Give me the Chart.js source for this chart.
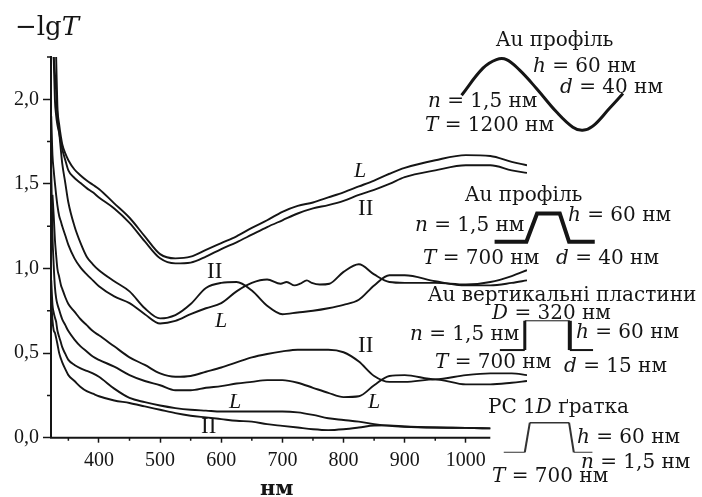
<!DOCTYPE html>
<html>
<head>
<meta charset="utf-8">
<style>
  body { margin: 0; background: #fff; }
  canvas { display: block; }
</style>
<script src="https://cdn.jsdelivr.net/npm/chart.js@4"></script>
</head>
<body>
<canvas id="myChart" width="702" height="497"></canvas>
<script>
// data
const wavelengths = [322, 324, 326, 328, 330, 332, 335, 338, 340, 345, 350, 360, 370, 380, 390, 400, 425, 450, 475, 500, 525, 550, 575, 600, 625, 650, 675, 700, 725, 750, 775, 800, 825, 850, 875, 900, 950, 1000, 1040, 1075, 1100];

const sineL = [null, null, null, null, 2.25, 1.965, 1.85, 1.775, 1.735, 1.68, 1.64, 1.585, 1.55, 1.52, 1.495, 1.47, 1.385, 1.3, 1.19, 1.085, 1.06, 1.07, 1.11, 1.15, 1.19, 1.24, 1.285, 1.335, 1.37, 1.39, 1.42, 1.45, 1.485, 1.52, 1.56, 1.595, 1.64, 1.67, 1.665, 1.63, 1.61];
const sineII = [null, null, 2.25, 1.995, 1.905, 1.85, 1.8, 1.74, 1.705, 1.64, 1.58, 1.535, 1.505, 1.475, 1.45, 1.42, 1.355, 1.27, 1.16, 1.06, 1.03, 1.035, 1.07, 1.115, 1.155, 1.2, 1.245, 1.285, 1.325, 1.355, 1.375, 1.4, 1.435, 1.465, 1.5, 1.54, 1.58, 1.61, 1.61, 1.58, 1.565];
const trapII = [null, null, 2.25, 2.15, 2.05, 1.905, 1.805, 1.69, 1.62, 1.505, 1.39, 1.25, 1.15, 1.07, 1.025, 0.99, 0.925, 0.865, 0.765, 0.705, 0.725, 0.79, 0.885, 0.915, 0.92, 0.87, 0.78, 0.73, 0.74, 0.75, 0.765, 0.785, 0.815, 0.9, 0.96, 0.96, 0.925, 0.9, 0.9, 0.915, 0.93];

// this one has small wiggles past 700 nm, so it has its own list of wavelengths
const trapLWavelengths = [322, 324, 326, 328, 330, 332, 335, 338, 340, 345, 350, 360, 370, 380, 390, 400, 425, 450, 475, 500, 525, 550, 575, 600, 625, 650, 675, 697, 707, 720, 729, 740, 748, 761, 777, 800, 825, 850, 875, 900, 950, 1000, 1040, 1075, 1100];
const trapL = [1.9, 1.67, 1.58, 1.505, 1.435, 1.375, 1.31, 1.275, 1.25, 1.195, 1.14, 1.06, 1.005, 0.965, 0.93, 0.895, 0.835, 0.795, 0.73, 0.675, 0.69, 0.73, 0.765, 0.795, 0.865, 0.915, 0.935, 0.91, 0.92, 0.9, 0.91, 0.93, 0.915, 0.905, 0.91, 0.98, 1.025, 0.965, 0.92, 0.915, 0.915, 0.905, 0.92, 0.955, 0.99];

const plateII = [null, 1.435, 1.315, 1.17, 1.08, 1.0, 0.95, 0.9, 0.88, 0.83, 0.79, 0.745, 0.7, 0.665, 0.63, 0.605, 0.54, 0.475, 0.43, 0.38, 0.36, 0.365, 0.39, 0.415, 0.445, 0.475, 0.495, 0.51, 0.52, 0.52, 0.52, 0.505, 0.45, 0.365, 0.33, 0.33, 0.345, 0.315, 0.315, 0.325, 0.335];
const plateL = [1.58, 1.2, 1.02, 0.89, 0.825, 0.79, 0.755, 0.72, 0.7, 0.665, 0.63, 0.58, 0.54, 0.51, 0.48, 0.46, 0.42, 0.37, 0.335, 0.31, 0.28, 0.28, 0.295, 0.305, 0.32, 0.33, 0.34, 0.34, 0.325, 0.295, 0.265, 0.24, 0.245, 0.31, 0.365, 0.37, 0.345, 0.37, 0.38, 0.38, 0.37];
const gratingL = [0.93, 0.785, 0.74, 0.71, 0.685, 0.635, 0.595, 0.56, 0.535, 0.495, 0.46, 0.43, 0.41, 0.395, 0.38, 0.36, 0.29, 0.235, 0.21, 0.19, 0.175, 0.165, 0.16, 0.155, 0.155, 0.155, 0.155, 0.155, 0.15, 0.135, 0.115, 0.105, 0.095, 0.08, 0.07, 0.065, 0.06, 0.058, 0.055, null, null];
const gratingII = [0.81, 0.695, 0.635, 0.62, 0.59, 0.555, 0.5, 0.465, 0.445, 0.405, 0.37, 0.335, 0.3, 0.275, 0.26, 0.245, 0.22, 0.205, 0.185, 0.165, 0.145, 0.13, 0.12, 0.11, 0.1, 0.095, 0.08, 0.07, 0.06, 0.05, 0.045, 0.05, 0.06, 0.072, 0.073, 0.066, 0.06, 0.058, 0.055, null, null];

const xTickValues = [400, 500, 600, 700, 800, 900, 1000];
const xMinorValues = [350, 450, 550, 650, 750, 850, 950];
const yTickValues = [0, 0.5, 1, 1.5, 2];
const yMinorValues = [0.25, 0.75, 1.25, 1.75, 2.25];

// profile sketches beside the curves, on the same scales.
// Listed right to left on purpose: unsorted data is not cut off at the axis max.
const sketchSineX = [1257, 1235, 1207.6, 1191, 1175, 1148, 1115.5, 1088, 1066.5, 1050, 1028, 993];
const sketchSineY = [2.034, 1.947, 1.841, 1.817, 1.835, 1.926, 2.064, 2.172, 2.235, 2.235, 2.184, 2.024];
const sketchTrapX = [1210.8, 1168.8, 1153.6, 1116.5, 1099, 1047];
const sketchTrapY = [1.158, 1.158, 1.325, 1.325, 1.158, 1.158];
const sketchPlateX = [1208, 1170, 1170, 1096.4, 1096.4, 1055.6];
const sketchPlateY = [0.518, 0.518, 0.691, 0.691, 0.518, 0.518];
const sketchGratingX = [1207, 1176.5, 1168.8, 1104.6, 1096.4, 1062];
const sketchGratingY = [-0.086, -0.086, 0.089, 0.089, -0.086, -0.086];

// stroke of each leg of the two thin sketches, right to left
const plateLegWidths = [2, 4, 1, 3, 2];
const gratingLegWidths = [1, 2, 1.5, 2, 1];

// *...* is italic
const notes = [
  { text: "−lg*T*", x: 15, y: 28, size: 26 },
  { text: "Au профіль", x: 496, y: 41 },
  { text: "*h* = 60 нм", x: 533, y: 67 },
  { text: "*d* = 40 нм", x: 560, y: 88 },
  { text: "*n* = 1,5 нм", x: 428, y: 102 },
  { text: "*T* = 1200 нм", x: 425, y: 126 },
  { text: "Au профіль", x: 465, y: 196 },
  { text: "*h* = 60 нм", x: 568, y: 216 },
  { text: "*n* = 1,5 нм", x: 415, y: 226 },
  { text: "*T* = 700 нм", x: 423, y: 259 },
  { text: "*d* = 40 нм", x: 556, y: 259 },
  { text: "Au вертикальні пластини", x: 428, y: 296 },
  { text: "*D* = 320 нм", x: 492, y: 314 },
  { text: "*h* = 60 нм", x: 576, y: 333 },
  { text: "*n* = 1,5 нм", x: 410, y: 335 },
  { text: "*T* = 700 нм", x: 435, y: 363 },
  { text: "*d* = 15 нм", x: 564, y: 367 },
  { text: "PC 1*D* ґратка", x: 488, y: 408 },
  { text: "*h* = 60 нм", x: 577, y: 438 },
  { text: "*n* = 1,5 нм", x: 581, y: 463 },
  { text: "*T* = 700 нм", x: 492, y: 477 },
  { text: "нм", x: 260, y: 490, size: 21, weight: "bold" },
  { text: "*L*", x: 354, y: 171, size: 22, face: "Liberation Serif" },
  { text: "II", x: 358, y: 209, size: 23, face: "Liberation Serif" },
  { text: "II", x: 207, y: 272, size: 23, face: "Liberation Serif" },
  { text: "*L*", x: 215, y: 321, size: 22, face: "Liberation Serif" },
  { text: "II", x: 358, y: 346, size: 23, face: "Liberation Serif" },
  { text: "*L*", x: 368, y: 402, size: 22, face: "Liberation Serif" },
  { text: "*L*", x: 229, y: 402, size: 22, face: "Liberation Serif" },
  { text: "II", x: 201, y: 427, size: 23, face: "Liberation Serif" },
];

const ink = "#151515";

function toPoints(xs, ys) {
  const points = [];
  for (let i = 0; i < xs.length; i++) {
    if (ys[i] !== null) {
      points.push({ x: xs[i], y: ys[i] });
    }
  }
  return points;
}

function curve(xs, ys) {
  return {
    data: toPoints(xs, ys),
    borderColor: ink,
    borderWidth: 1.9,
    pointRadius: 0,
    cubicInterpolationMode: "monotone",
  };
}

function sketch(xs, ys, width, color, tension) {
  return {
    data: toPoints(xs, ys),
    borderColor: color,
    borderWidth: width,
    pointRadius: 0,
    tension: tension,
    capBezierPoints: false,
    clip: false,
  };
}

function legs(widths) {
  return { borderWidth: (seg) => widths[seg.p0DataIndex] };
}

const extras = {
  id: "extras",
  afterDraw(chart) {
    const ctx = chart.ctx;
    const xs = chart.scales.x;
    const ys = chart.scales.y;
    const y0 = ys.getPixelForValue(0);
    ctx.save();
    ctx.strokeStyle = ink;

    // x axis stops at the last point of the bottom curves
    ctx.lineWidth = 2;
    ctx.beginPath();
    ctx.moveTo(xs.left - 1, y0);
    ctx.lineTo(xs.getPixelForValue(1040), y0);
    ctx.stroke();

    // minor ticks
    ctx.lineWidth = 1.5;
    ctx.beginPath();
    for (const v of xMinorValues) {
      ctx.moveTo(xs.getPixelForValue(v), y0);
      ctx.lineTo(xs.getPixelForValue(v), y0 + 3);
    }
    for (const v of yMinorValues) {
      ctx.moveTo(xs.left, ys.getPixelForValue(v));
      ctx.lineTo(xs.left - 4, ys.getPixelForValue(v));
    }
    ctx.stroke();

    // labels
    ctx.fillStyle = ink;
    ctx.textBaseline = "middle";
    for (const note of notes) {
      const size = note.size || 20;
      const face = note.face || "DejaVu Serif";
      const parts = note.text.split("*");
      let x = note.x;
      parts.forEach((part, i) => {
        const style = i % 2 === 1 ? "italic " : "";
        ctx.font = `${style}${note.weight || "normal"} ${size}px "${face}"`;
        ctx.fillText(part, x, note.y);
        x += ctx.measureText(part).width;
      });
    }
    ctx.restore();
  },
};

const ctx = document.getElementById("myChart").getContext("2d");
const myChart = new Chart(ctx, {
  type: "line",
  data: {
    datasets: [
      curve(wavelengths, sineL),
      curve(wavelengths, sineII),
      curve(wavelengths, trapII),
      curve(trapLWavelengths, trapL),
      curve(wavelengths, plateII),
      curve(wavelengths, plateL),
      curve(wavelengths, gratingL),
      curve(wavelengths, gratingII),
      sketch(sketchSineX, sketchSineY, 3, ink, 0.4),
      sketch(sketchTrapX, sketchTrapY, 4, ink, 0),
      { ...sketch(sketchPlateX, sketchPlateY, 2, ink, 0), segment: legs(plateLegWidths) },
      { ...sketch(sketchGratingX, sketchGratingY, 1.7, "#333", 0), segment: legs(gratingLegWidths) },
    ],
  },
  plugins: [extras],
  options: {
    responsive: false,
    animation: false,
    events: [],
    layout: { padding: { top: 57, right: 175, left: 0, bottom: 0 } },
    plugins: {
      legend: { display: false },
      tooltip: { enabled: false },
    },
    scales: {
      x: {
        type: "linear",
        min: 321.6,
        max: 1100,
        border: { display: false },
        grid: { drawOnChartArea: false, tickLength: 5, tickColor: ink, tickWidth: 1.5 },
        afterBuildTicks(scale) {
          scale.ticks = xTickValues.map((v) => ({ value: v }));
        },
        afterFit(scale) {
          scale.height = 59.3;
        },
        ticks: {
          color: ink,
          padding: 6,
          maxRotation: 0,
          autoSkip: false,
          font: { family: "Liberation Serif", size: 20 },
          callback: (v) => String(v),
        },
      },
      y: {
        min: 0,
        max: 2.25,
        border: { color: ink, width: 2 },
        grid: { drawOnChartArea: false, tickLength: 8, tickColor: ink, tickWidth: 1.5 },
        afterBuildTicks(scale) {
          scale.ticks = yTickValues.map((v) => ({ value: v }));
        },
        afterFit(scale) {
          scale.width = 51;
        },
        ticks: {
          color: ink,
          padding: 4,
          autoSkip: false,
          font: { family: "Liberation Serif", size: 20 },
          callback: (v) => v.toFixed(1).replace(".", ","),
        },
      },
    },
  },
});
</script>
</body>
</html>
